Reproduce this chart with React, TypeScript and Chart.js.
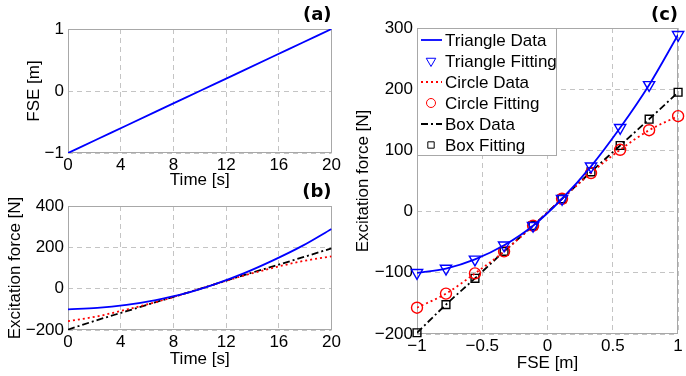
import React, { useEffect, useRef } from 'react';
import { Chart, registerables } from 'chart.js';
import { drawPoint } from 'chart.js/helpers';

Chart.register(...registerables);

const FAMILY = '"Liberation Sans", Arial, Helvetica, sans-serif';
const LABEL_FAMILY = '"DejaVu Sans", "Liberation Sans", sans-serif';
Chart.defaults.font.family = FAMILY;
Chart.defaults.font.weight = 'normal' as any;
Chart.defaults.color = '#000';

// ---- data ----
const timeS = [0, 2.22, 4.44, 6.67, 8.89, 11.11, 13.33, 15.56, 17.78, 20];
const fseM = [-1, -0.778, -0.556, -0.333, -0.111, 0.111, 0.333, 0.556, 0.778, 1];
const triangleN = [-100, -93, -78, -55, -23, 21, 74, 137, 207, 289];
const circleN = [-157, -134, -101, -65, -23, 21, 63, 101, 133, 156];
const boxN = [-198, -152, -109, -65, -23, 21, 65, 108, 151, 195];
const seriesLabels = ['Triangle Data', 'Triangle Fitting', 'Circle Data', 'Circle Fitting', 'Box Data', 'Box Fitting'];
const panelLabels = ['(a)', '(b)', '(c)'];
const axisTitles = { time: 'Time [s]', fse: 'FSE [m]', force: 'Excitation force [N]' };

const BLUE = '#0000ff';
const RED = '#ff0000';
const BLACK = '#000000';
const GRID = '#c4c4c4';
const FRAME = '#a8a8a8';

const pts = (xs: number[], ys: number[]) => xs.map((x, i) => ({ x, y: ys[i] }));
const fmt = (v: any) => {
  const n = Number(v);
  const s = String(Math.round(Math.abs(n) * 1000) / 1000);
  return (n < 0 ? '\u2212' : '') + s;
};

function xAxis(min: number, max: number, step: number, title: string, padBottom: number, height: number) {
  return {
    type: 'linear',
    min,
    max,
    ticks: { stepSize: step, padding: 2, color: '#000', font: { size: 17, weight: 'normal' }, maxRotation: 0, autoSkip: false, callback: fmt },
    grid: { color: GRID, drawTicks: false, lineWidth: 1 },
    border: { display: false, dash: [5, 4] },
    title: { display: true, text: title, color: '#000', font: { size: 17, weight: 'normal', family: FAMILY }, padding: { top: 0, bottom: padBottom } },
    afterFit: (s: any) => {
      s.height = height;
    },
  };
}

function yAxis(min: number, max: number, step: number, title: string, padTop: number, width: number) {
  return {
    type: 'linear',
    min,
    max,
    ticks: { stepSize: step, padding: 4, color: '#000', font: { size: 17, weight: 'normal' }, autoSkip: false, callback: fmt },
    grid: { color: GRID, drawTicks: false, lineWidth: 1 },
    border: { display: false, dash: [5, 4] },
    title: { display: true, text: title, color: '#000', font: { size: 17, weight: 'normal', family: FAMILY }, padding: { top: padTop, bottom: 0 } },
    afterFit: (s: any) => {
      s.width = width;
    },
  };
}

const framePlugin = {
  id: 'frame',
  beforeDatasetsDraw(chart: any) {
    const { ctx, chartArea: a } = chart;
    ctx.save();
    ctx.setLineDash([]);
    ctx.strokeStyle = FRAME;
    ctx.lineWidth = 1;
    ctx.strokeRect(Math.round(a.left) + 0.5, Math.round(a.top) + 0.5, Math.round(a.right - a.left) - 1, Math.round(a.bottom - a.top) - 1);
    ctx.restore();
  },
  afterDraw(chart: any, _args: any, opts: any) {
    if (!opts || !opts.label) return;
    const { ctx, chartArea: a } = chart;
    ctx.save();
    ctx.fillStyle = '#000';
    ctx.font = `bold 18px ${LABEL_FAMILY}`;
    ctx.textAlign = 'right';
    ctx.textBaseline = 'middle';
    ctx.fillText(opts.label, a.right, opts.labelY);
    ctx.restore();
  },
};

const boxLegendPlugin = {
  id: 'boxLegend',
  afterDraw(chart: any) {
    const { ctx, chartArea: a } = chart;
    const x0 = Math.round(a.left);
    const y0 = Math.round(a.top);
    const w = 139;
    const h = 127;
    ctx.save();
    ctx.fillStyle = '#ffffff';
    ctx.fillRect(x0, y0, w, h);
    ctx.strokeStyle = FRAME;
    ctx.lineWidth = 1;
    ctx.setLineDash([]);
    ctx.strokeRect(x0 + 0.5, y0 + 0.5, w, h);
    chart.data.datasets.forEach((ds: any, i: number) => {
      const cy = y0 + 12 + i * 21;
      ctx.save();
      if (ds.showLine === false) {
        ctx.strokeStyle = ds.pointBorderColor;
        ctx.fillStyle = 'rgba(0,0,0,0)';
        ctx.setLineDash([]);
        drawPoint(ctx, { pointStyle: ds.pointStyle, rotation: ds.pointRotation || 0, radius: ds.pointRadius - 1, borderWidth: ds.pointBorderWidth }, x0 + 14, cy);
      } else {
        ctx.strokeStyle = ds.borderColor;
        ctx.lineWidth = ds.borderWidth;
        ctx.setLineDash(ds.borderDash || []);
        ctx.beginPath();
        ctx.moveTo(x0 + 4, cy);
        ctx.lineTo(x0 + 25, cy);
        ctx.stroke();
      }
      ctx.restore();
      ctx.fillStyle = '#000';
      ctx.font = `normal 17px ${FAMILY}`;
      ctx.textAlign = 'left';
      ctx.textBaseline = 'middle';
      ctx.fillText(ds.label, x0 + 28, cy + 1);
    });
    ctx.restore();
  },
};

function lineDs(label: string, xs: number[], ys: number[], color: string, dash: number[]) {
  return {
    label,
    data: pts(xs, ys),
    borderColor: color,
    borderWidth: 1.8,
    borderDash: dash,
    pointRadius: 0,
    cubicInterpolationMode: 'monotone',
    fill: false,
  };
}

function markerDs(label: string, xs: number[], ys: number[], color: string, style: string, radius: number, rotation: number) {
  return {
    label,
    data: pts(xs, ys),
    showLine: false,
    pointStyle: style,
    pointRadius: radius,
    pointRotation: rotation,
    pointBorderColor: color,
    pointBackgroundColor: 'rgba(0,0,0,0)',
    pointBorderWidth: 1.4,
    borderColor: color,
    clip: false,
  };
}

const baseOptions = (padTop: number, padRight: number) => ({
  responsive: false,
  maintainAspectRatio: false,
  animation: false,
  events: [],
  layout: { padding: { top: padTop, right: padRight, left: 0, bottom: 0 } },
});

function configA() {
  return {
    type: 'line',
    data: { datasets: [lineDs('FSE', timeS, fseM, BLUE, [])] },
    options: {
      ...baseOptions(29, 9),
      plugins: { legend: { display: false }, tooltip: { enabled: false }, frame: { label: panelLabels[0], labelY: 15 } },
      scales: { x: xAxis(0, 20, 4, axisTitles.time, 1.8, 39), y: yAxis(-1, 1, 1, axisTitles.fse, 23.8, 68) },
    },
    plugins: [framePlugin],
  };
}

function configB() {
  return {
    type: 'line',
    data: {
      datasets: [
        lineDs(seriesLabels[0], timeS, triangleN, BLUE, []),
        lineDs(seriesLabels[2], timeS, circleN, RED, [2, 3]),
        lineDs(seriesLabels[4], timeS, boxN, BLACK, [7, 3, 2, 3]),
      ],
    },
    options: {
      ...baseOptions(24, 9),
      plugins: { legend: { display: false }, tooltip: { enabled: false }, frame: { label: panelLabels[1], labelY: 10 } },
      scales: { x: xAxis(0, 20, 4, axisTitles.time, 6.8, 46), y: yAxis(-200, 400, 200, axisTitles.force, 4.8, 68) },
    },
    plugins: [framePlugin],
  };
}

function configC() {
  return {
    type: 'line',
    data: {
      datasets: [
        lineDs(seriesLabels[0], fseM, triangleN, BLUE, []),
        markerDs(seriesLabels[1], fseM, triangleN, BLUE, 'triangle', 6.5, 180),
        lineDs(seriesLabels[2], fseM, circleN, RED, [2, 3]),
        markerDs(seriesLabels[3], fseM, circleN, RED, 'circle', 5.5, 0),
        lineDs(seriesLabels[4], fseM, boxN, BLACK, [7, 3, 2, 3]),
        markerDs(seriesLabels[5], fseM, boxN, BLACK, 'rect', 5.5, 0),
      ],
    },
    options: {
      ...baseOptions(28, 5),
      plugins: { legend: { display: false }, tooltip: { enabled: false }, frame: { label: panelLabels[2], labelY: 15 } },
      scales: { x: xAxis(-1, 1, 0.5, axisTitles.fse, 2.8, 42), y: yAxis(-200, 300, 100, axisTitles.force, 9.8, 74) },
    },
    plugins: [framePlugin, boxLegendPlugin],
  };
}

function ChartCanvas(props: { make: () => any; left: number; top: number; width: number; height: number }) {
  const ref = useRef<HTMLCanvasElement>(null);
  useEffect(() => {
    const chart = new Chart(ref.current as HTMLCanvasElement, props.make() as any);
    return () => chart.destroy();
  }, []);
  return (
    <canvas
      ref={ref}
      width={props.width}
      height={props.height}
      style={{ position: 'absolute', left: props.left, top: props.top, width: props.width, height: props.height }}
    />
  );
}

export default function App() {
  return (
    <div style={{ position: 'absolute', left: 0, top: 0, width: 686, height: 376, background: '#ffffff', overflow: 'hidden' }}>
      <ChartCanvas make={configA} left={0} top={0} width={343} height={192} />
      <ChartCanvas make={configB} left={0} top={182} width={343} height={194} />
      <ChartCanvas make={configC} left={343} top={0} width={343} height={376} />
    </div>
  );
}
